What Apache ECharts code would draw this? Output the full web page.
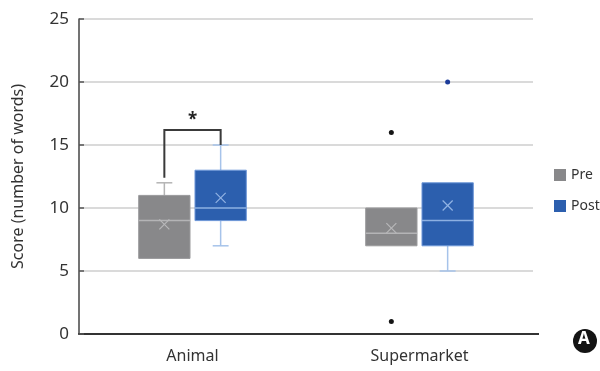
<!DOCTYPE html>
<html>
<head>
<meta charset="utf-8">
<script src="https://cdn.jsdelivr.net/npm/echarts@6/dist/echarts.min.js"></script>
<style>
  html, body { margin: 0; padding: 0; background: #fff; }
  #chart { width: 600px; height: 371px; }
</style>
</head>
<body>
<div id="chart"></div>
<script>
// Word-count scores by category, before and after
const categories = ['Animal', 'Supermarket'];
const groupNames = ['Pre', 'Post'];
// five-number summaries: [min, Q1, median, Q3, max]
const preBox = [[6, 6, 9, 11, 12], [7, 7, 8, 10, 10]];
const postBox = [[7, 9, 10, 13, 15], [5, 7, 9, 12, 12]];
const preMean = [8.7, 8.4];
const postMean = [10.8, 10.2];
// outliers as [categoryIndex, value]
const preOutliers = [[1, 16], [1, 1]];
const postOutliers = [[1, 20]];
const yTicks = [0, 5, 10, 15, 20, 25];
// significance bracket on Animal: left leg end, bar height, right leg end
const sigBracket = [12.4, 16.2, 15];
const sigLabel = '*';

const FONT = 'Noto Sans';
const OFFSET = 0.124;   // box centre offset, fraction of band width
const BOXW = 0.226;     // box width, fraction of band width
const CAPW = 0.07;      // whisker cap width, fraction of band width

const styles = {
  Pre:  { fill: '#88888a', stroke: '#9a9a9c', whisker: '#b4b4b4', median: '#b4b4b6', mean: '#b8b8ba', outlier: '#151515' },
  Post: { fill: '#2c5fae', stroke: '#6d97d8', whisker: '#a6c3ea', median: '#8db0e2', mean: '#93b4e4', outlier: '#1c3c9a' }
};

function boxData(boxes, means) {
  return boxes.map((b, i) => [i, b[0], b[1], b[2], b[3], b[4], means[i]]);
}

function boxRenderer(side, st) {
  return function (params, api) {
    const cat = api.value(0);
    const bw = api.size([1, 0])[0];
    const cx = api.coord([cat, 0])[0] + side * OFFSET * bw;
    const w = BOXW * bw;
    const cap = CAPW * bw;
    const y = v => api.coord([cat, v])[1];
    const mn = api.value(1), q1 = api.value(2), md = api.value(3), q3 = api.value(4), mx = api.value(5), mean = api.value(6);
    const children = [];
    const wl = { stroke: st.whisker, lineWidth: 1.5 };
    if (mn < q1) {
      children.push({ type: 'line', shape: { x1: cx, y1: y(q1), x2: cx, y2: y(mn) }, style: wl });
      children.push({ type: 'line', shape: { x1: cx - cap / 2, y1: y(mn), x2: cx + cap / 2, y2: y(mn) }, style: wl });
    }
    if (mx > q3) {
      children.push({ type: 'line', shape: { x1: cx, y1: y(q3), x2: cx, y2: y(mx) }, style: wl });
      children.push({ type: 'line', shape: { x1: cx - cap / 2, y1: y(mx), x2: cx + cap / 2, y2: y(mx) }, style: wl });
    }
    children.push({
      type: 'rect',
      shape: { x: cx - w / 2, y: y(q3), width: w, height: y(q1) - y(q3) },
      style: { fill: st.fill, stroke: st.stroke, lineWidth: 1 }
    });
    children.push({ type: 'line', shape: { x1: cx - w / 2, y1: y(md), x2: cx + w / 2, y2: y(md) }, style: { stroke: st.median, lineWidth: 1.5 } });
    const ym = y(mean), s = 5;
    children.push({ type: 'line', shape: { x1: cx - s, y1: ym - s, x2: cx + s, y2: ym + s }, style: { stroke: st.mean, lineWidth: 1.2 } });
    children.push({ type: 'line', shape: { x1: cx - s, y1: ym + s, x2: cx + s, y2: ym - s }, style: { stroke: st.mean, lineWidth: 1.2 } });
    return { type: 'group', children };
  };
}

function outlierRenderer(side, color) {
  return function (params, api) {
    const cat = api.value(0);
    const bw = api.size([1, 0])[0];
    const p = api.coord([cat, api.value(1)]);
    return { type: 'circle', shape: { cx: p[0] + side * OFFSET * bw, cy: p[1], r: 2.5 }, style: { fill: color } };
  };
}

function bracketRenderer(params, api) {
  const bw = api.size([1, 0])[0];
  const c = api.coord([0, 0])[0];
  const xl = c - OFFSET * bw, xr = c + OFFSET * bw;
  const y = v => api.coord([0, v])[1];
  const top = y(api.value(2));
  return {
    type: 'group',
    children: [
      { type: 'polyline', shape: { points: [[xl, y(api.value(1))], [xl, top], [xr, top], [xr, y(api.value(3))]] },
        style: { stroke: '#3a3a3a', lineWidth: 2, fill: null } },
      { type: 'text', style: { text: sigLabel, x: (xl + xr) / 2, y: top - 1, textAlign: 'center', textVerticalAlign: 'bottom',
        fill: '#222', font: 'bold 17px ' + FONT } }
    ]
  };
}

const chart = echarts.init(document.getElementById('chart'));
chart.setOption({
  animation: false,
  textStyle: { fontFamily: FONT },
  grid: { left: 79, right: 67, top: 19, bottom: 37 },
  legend: {
    data: groupNames,
    orient: 'vertical',
    left: 549, top: 163,
    icon: 'rect',
    itemWidth: 12, itemHeight: 12, itemGap: 17,
    textStyle: { fontSize: 14, color: '#333', fontFamily: FONT }
  },
  xAxis: {
    type: 'category',
    data: categories,
    axisLine: { lineStyle: { color: '#333', width: 2 } },
    axisTick: { show: false },
    axisLabel: { fontSize: 16, color: '#333', margin: 14 },
    splitLine: { show: false }
  },
  yAxis: {
    type: 'value',
    min: yTicks[0], max: yTicks[yTicks.length - 1], interval: yTicks[1] - yTicks[0],
    name: 'Score (number of words)',
    nameLocation: 'middle', nameGap: 53, nameRotate: 90,
    nameTextStyle: { fontSize: 16, color: '#333' },
    axisLine: { show: true, lineStyle: { color: '#444', width: 1.5 } },
    axisTick: { show: true, inside: true, length: 5, lineStyle: { color: '#555', width: 1.5 } },
    axisLabel: { fontSize: 17, color: '#333', margin: 10 },
    splitLine: { lineStyle: { color: '#dadada', width: 2 } }
  },
  series: [
    { name: 'Pre', type: 'custom', itemStyle: { color: styles.Pre.fill }, renderItem: boxRenderer(-1, styles.Pre),
      encode: { x: 0, y: [1, 2, 3, 4, 5] }, data: boxData(preBox, preMean) },
    { name: 'Post', type: 'custom', itemStyle: { color: styles.Post.fill }, renderItem: boxRenderer(1, styles.Post),
      encode: { x: 0, y: [1, 2, 3, 4, 5] }, data: boxData(postBox, postMean) },
    { name: 'Pre outliers', type: 'custom', renderItem: outlierRenderer(-1, styles.Pre.outlier),
      encode: { x: 0, y: 1 }, data: preOutliers },
    { name: 'Post outliers', type: 'custom', renderItem: outlierRenderer(1, styles.Post.outlier),
      encode: { x: 0, y: 1 }, data: postOutliers },
    { name: 'Significance', type: 'custom', renderItem: bracketRenderer,
      encode: { x: 0, y: [1, 2, 3] }, data: [[0, sigBracket[0], sigBracket[1], sigBracket[2]]], z: 5 }
  ],
  graphic: [
    // x-axis baseline continues a little past the plot area
    { type: 'line', shape: { x1: 532, y1: 334, x2: 539, y2: 334 }, style: { stroke: '#333', lineWidth: 2 } },
    { type: 'circle', left: 573, top: 329, shape: { r: 12 }, style: { fill: '#141414' } },
    { type: 'text', left: 578, top: 331, style: { text: 'A', fill: '#fff', font: 'bold 17px ' + FONT } }
  ]
});
</script>
</body>
</html>
